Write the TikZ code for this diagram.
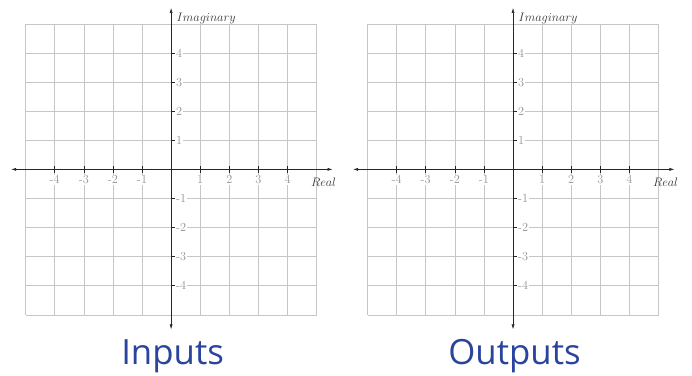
\documentclass[tikz,border=0pt]{standalone}
\usepackage{fontspec}
\usepackage{tikz}
\usetikzlibrary{arrows.meta}
\newfontfamily\titlefont{Open Sans}
\definecolor{titleblue}{RGB}{42,68,158}

\begin{document}
\begin{tikzpicture}[
    gridline/.style={draw=gray!45, line width=0.6pt},
    axisline/.style={draw=black!85, line width=0.6pt,
      {Latex[length=5pt,width=3pt]}-{Latex[length=5pt,width=3pt]}},
    tickmark/.style={draw=black!85, line width=0.6pt},
    ticklabel/.style={text=gray!85, fill=white, inner sep=1pt, font=\large},
    axislabel/.style={text=black!80, inner sep=1pt, font=\large},
    planetitle/.style={text=titleblue, font=\titlefont\fontsize{34}{40}\selectfont}
  ]
  \useasboundingbox (-5.88,-7.07) rectangle (17.9,5.82);
  \foreach \sx/\nm/\title in {0/in/Inputs, 11.75/out/Outputs}{
    \begin{scope}[xshift=\sx cm]
      % grid of the plane
      \draw[gridline] (-5,-5) grid (5,5);
      % axes
      \coordinate (\nm-west) at (-5.5,0);
      \coordinate (\nm-east) at (5.55,0);
      \coordinate (\nm-south) at (0,-5.5);
      \coordinate (\nm-north) at (0,5.55);
      \draw[axisline] (\nm-west) -- (\nm-east);
      \draw[axisline] (\nm-south) -- (\nm-north);
      % ticks and numbers
      \foreach \k in {-4,...,-1,1,2,3,4}{
        \draw[tickmark] (\k,-0.12) -- (\k,0.12);
        \draw[tickmark] (0,\k) -- (0.15,\k);
        \node[ticklabel, anchor=north] (\nm-x\k) at (\k,-0.17) {\k};
        \node[ticklabel, anchor=west] (\nm-y\k) at (0.13,\k) {\k};
      }
      % axis names
      \node[axislabel, anchor=west] (\nm-imag) at (0.15,5.2) {$Imaginary$};
      \node[axislabel] (\nm-real) at (5.24,-0.45) {$Real$};
      % plane title
      \node[planetitle, anchor=base] (\nm-title) at (0.05,-6.69) {\title};
    \end{scope}
  }
\end{tikzpicture}
\end{document}
